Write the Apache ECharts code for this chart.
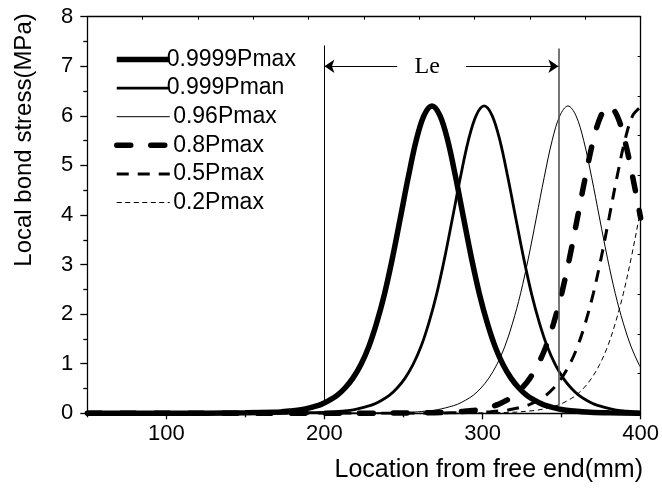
<!DOCTYPE html>
<html>
<head>
<meta charset="utf-8">
<script src="https://cdn.jsdelivr.net/npm/echarts@6/dist/echarts.min.js"></script>
<style>
html,body{margin:0;padding:0;background:#fff;}
#chart{width:662px;height:489px;}
</style>
</head>
<body>
<div id="chart"></div>
<script>
// ---- data ----
const seriesNames = ['0.9999Pmax', '0.999Pman', ' 0.96Pmax', ' 0.8Pmax', ' 0.5Pmax', ' 0.2Pmax'];

const s1x = [50,100,150,168,173,178,183,188,193,198,203,208,213,218,223,228,233,238,243,248,253,258,263,268,273,278,283,288,293,298,303,308,313,318,323,328,333,338,343,348,353,358,363,368,380,400];
const s1y = [0,0,0.01,0.02,0.03,0.045,0.06,0.09,0.13,0.18,0.26,0.36,0.51,0.71,0.98,1.34,1.82,2.41,3.13,3.94,4.76,5.50,6.01,6.20,6.01,5.50,4.76,3.94,3.13,2.41,1.82,1.34,0.98,0.71,0.51,0.36,0.26,0.18,0.13,0.09,0.06,0.045,0.03,0.02,0.01,0];

const s2x = [50,150,180,201,206,211,216,221,226,231,236,241,246,251,256,261,266,271,276,281,286,291,296,301,306,311,316,321,326,331,336,341,346,351,356,361,366,371,376,381,386,391,396,400];
const s2y = [0,0,0.01,0.02,0.03,0.045,0.06,0.09,0.13,0.18,0.26,0.36,0.51,0.71,0.98,1.34,1.82,2.41,3.13,3.94,4.76,5.50,6.01,6.20,6.01,5.50,4.76,3.94,3.13,2.41,1.82,1.34,0.98,0.71,0.51,0.36,0.26,0.18,0.13,0.09,0.06,0.045,0.03,0.02];

const s3x = [50,200,230,254,259,264,269,274,279,284,289,294,299,304,309,314,319,324,329,334,339,344,349,354,359,364,369,374,379,384,389,394,399,400];
const s3y = [0,0,0.01,0.02,0.03,0.045,0.06,0.09,0.13,0.18,0.26,0.36,0.51,0.71,0.98,1.34,1.82,2.41,3.13,3.94,4.76,5.50,6.01,6.20,6.01,5.50,4.76,3.94,3.13,2.41,1.82,1.34,0.98,0.93];

const s4x = [50,200,260,280,285,290,295,300,305,310,315,320,325,330,335,340,345,350,355,360,365,370,375,380,385,390,395,400];
const s4y = [0,0,0.01,0.02,0.03,0.045,0.06,0.09,0.13,0.18,0.26,0.36,0.51,0.71,0.98,1.34,1.82,2.41,3.13,3.94,4.76,5.50,6.01,6.20,6.01,5.50,4.76,3.94];

const s5x = [50,250,280,300,305,310,315,320,325,330,335,340,345,350,355,360,365,370,375,380,385,390,395,400];
const s5y = [0,0,0.01,0.02,0.03,0.045,0.06,0.09,0.13,0.18,0.26,0.36,0.51,0.71,0.98,1.34,1.82,2.41,3.13,3.94,4.76,5.50,6.01,6.18];

const s6x = [50,280,300,319,324,329,334,339,344,349,354,359,364,369,374,379,384,389,394,399,400];
const s6y = [0,0,0.01,0.02,0.03,0.045,0.06,0.09,0.13,0.18,0.26,0.36,0.51,0.71,0.98,1.34,1.82,2.41,3.13,3.94,4.10];

// axis ticks
const xLabelValues = [100, 200, 300, 400];
const xMinorValues = [50, 150, 250, 350];

// annotation (Le) values
const leX = [200, 348];
const leBottom = [0.2, 0.15];
const leTop = [7.42, 7.36];
const arrowY = 7.0;
const arrowGap = [246, 289.5];
const leText = 'Le';
const leTextX = 265;

// ---- chart ----
const SANS = '"Liberation Sans", Arial, sans-serif';
const zip = (xs, ys) => xs.map((x, i) => [x, ys[i]]);

const styles = [
  {width: 5.5, type: 'solid'},
  {width: 2.8, type: 'solid'},
  {width: 1, type: 'solid'},
  {width: 5.5, type: [14, 20], cap: 'round'},
  {width: 3, type: [12, 9]},
  {width: 1, type: [5, 3.5]}
];
const xs = [s1x, s2x, s3x, s4x, s5x, s6x];
const ys = [s1y, s2y, s3y, s4y, s5y, s6y];

const series = seriesNames.map((name, i) => ({
  type: 'line',
  name: name,
  xAxisIndex: 0,
  yAxisIndex: 0,
  data: zip(xs[i], ys[i]),
  smooth: 0.35,
  symbol: 'none',
  showSymbol: false,
  clip: true,
  lineStyle: Object.assign({color: '#000'}, styles[i]),
  itemStyle: {color: '#000'},
  z: 3
}));

series.push({
  type: 'line',
  name: 'annot',
  xAxisIndex: 0,
  yAxisIndex: 0,
  data: [],
  silent: true,
  markLine: {
    silent: true,
    animation: false,
    label: {show: false},
    symbolSize: 10,
    lineStyle: {color: '#000', width: 1, type: 'solid'},
    data: [
      [{coord: [leX[0], leBottom[0]], symbol: 'none'}, {coord: [leX[0], leTop[0]], symbol: 'none'}],
      [{coord: [leX[1], leBottom[1]], symbol: 'none', lineStyle: {color: '#555', width: 1.6}}, {coord: [leX[1], leTop[1]], symbol: 'none'}],
      [{coord: [arrowGap[0], arrowY], symbol: 'none'}, {coord: [leX[0], arrowY], symbol: 'arrow'}],
      [{coord: [arrowGap[1], arrowY], symbol: 'none'}, {coord: [leX[1], arrowY], symbol: 'arrow'}]
    ]
  },
  markPoint: {
    silent: true,
    animation: false,
    symbol: 'rect',
    symbolSize: 1,
    itemStyle: {color: 'rgba(0,0,0,0)'},
    label: {show: true, position: 'inside', formatter: leText, color: '#000',
            fontFamily: '"Liberation Serif", "Times New Roman", serif', fontSize: 24},
    data: [{coord: [leTextX, arrowY]}]
  }
});

const option = {
  animation: false,
  backgroundColor: '#fff',
  grid: {left: 87.3, right: 20.3, top: 16.7, bottom: 75.7, containLabel: false},
  legend: {
    show: true,
    orient: 'vertical',
    left: 109,
    top: 43,
    itemWidth: 53,
    itemHeight: 20,
    itemGap: 5.6,
    data: seriesNames,
    itemStyle: {opacity: 0, borderWidth: 0},
    lineStyle: {width: 'inherit', type: 'inherit', opacity: 1},
    textStyle: {fontFamily: SANS, fontSize: 23, color: '#000', padding: [0,0,0,-8]},
    selectedMode: false
  },
  xAxis: [
    {
      type: 'value', min: 50, max: 400, position: 'bottom',
      axisLine: {show: true, onZero: false, lineStyle: {color: '#000', width: 1.3}},
      axisTick: {show: true, inside: false, length: 6, customValues: xLabelValues, lineStyle: {color: '#000', width: 1.3}},
      axisLabel: {show: true, customValues: xLabelValues, margin: 10, fontFamily: SANS, fontSize: 22, color: '#000'},
      splitLine: {show: false}
    },
    {
      type: 'value', min: 0, max: 10, interval: 1, position: 'top',
      axisLine: {show: true, onZero: false, lineStyle: {color: '#000', width: 1.3}},
      axisTick: {show: true, inside: true, length: 3, lineStyle: {color: '#000', width: 1}},
      axisLabel: {show: false},
      splitLine: {show: false}
    },
    {
      type: 'value', min: 50, max: 400, position: 'bottom',
      axisLine: {show: false, onZero: false},
      axisTick: {show: true, inside: false, length: 4, customValues: xMinorValues, lineStyle: {color: '#000', width: 1.3}},
      axisLabel: {show: false},
      splitLine: {show: false}
    }
  ],
  yAxis: [
    {
      type: 'value', min: 0, max: 8, interval: 1, position: 'left',
      axisLine: {show: true, onZero: false, lineStyle: {color: '#000', width: 1.3}},
      axisTick: {show: true, inside: false, length: 7, lineStyle: {color: '#000', width: 1.3}},
      minorTick: {show: true, splitNumber: 2, length: 4, lineStyle: {color: '#000', width: 1.3}},
      axisLabel: {show: true, margin: 14, fontFamily: SANS, fontSize: 22, color: '#000'},
      splitLine: {show: false},
      minorSplitLine: {show: false}
    },
    {
      type: 'value', min: 0, max: 10, interval: 1, position: 'right',
      axisLine: {show: true, onZero: false, lineStyle: {color: '#000', width: 1.3}},
      axisTick: {show: true, inside: true, length: 3, lineStyle: {color: '#000', width: 1}},
      axisLabel: {show: false},
      splitLine: {show: false}
    }
  ],
  graphic: [
    {
      type: 'text', x: 24.5, y: 140, rotation: Math.PI / 2,
      style: {text: 'Local bond stress(MPa)', fill: '#000', font: '24px "Liberation Sans", Arial, sans-serif',
              textAlign: 'center', textVerticalAlign: 'middle'}
    },
    {
      type: 'text', x: 643, y: 470,
      style: {text: 'Location from free end(mm)', fill: '#000', font: '25px "Liberation Sans", Arial, sans-serif',
              textAlign: 'right', textVerticalAlign: 'middle'}
    }
  ],
  series: series
};

const chart = echarts.init(document.getElementById('chart'), null, {renderer: 'canvas'});
chart.setOption(option);
</script>
</body>
</html>
